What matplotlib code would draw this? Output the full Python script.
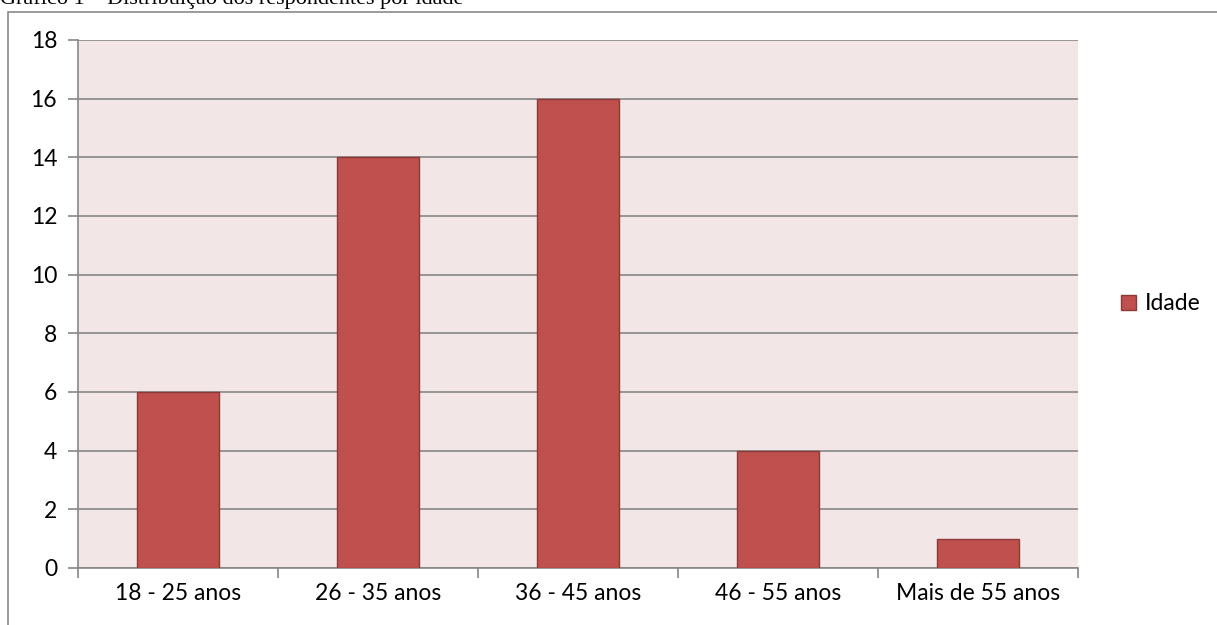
import matplotlib.pyplot as plt
import numpy as np
from matplotlib.patches import Rectangle

categories = ["18 - 25 anos", "26 - 35 anos", "36 - 45 anos", "46 - 55 anos", "Mais de 55 anos"]
values = [6, 14, 16, 4, 1]
yticks = [0, 2, 4, 6, 8, 10, 12, 14, 16, 18]
series_name = "Idade"
title = "Gráfico 1 – Distribuição dos respondentes por idade"

plt.rcParams['font.family'] = ['Lato', 'DejaVu Sans']

fig = plt.figure(figsize=(12.17, 6.25), dpi=100)
ax = fig.add_axes([78 / 1217, 57 / 625, 1000 / 1217, 528 / 625])

# chart frame
fig.patches.append(Rectangle((8 / 1217, -0.05), 1.1, (613 / 625) + 0.05, transform=fig.transFigure,
                             fill=False, edgecolor="#8a8a8a", linewidth=1.2, zorder=0))
fig.text(0.0, 1 - 4 / 625, title, family="Liberation Serif", fontsize=16, va="baseline", ha="left")

x = np.arange(len(categories))
ax.set_facecolor("#F2E7E6")
ax.bar(x, values, width=0.41, color="#C0504D", edgecolor="#8C3A38", linewidth=1, label=series_name, zorder=3)

ax.set_xlim(-0.5, len(categories) - 0.5)
ax.set_ylim(0, 18)
ax.set_yticks(yticks)
ax.set_yticklabels([str(v) for v in yticks], fontsize=16.5)
ax.yaxis.grid(True, color="#868686", linewidth=1.2, zorder=1)
ax.set_axisbelow(True)

ax.set_xticks(x)
ax.set_xticklabels(categories, fontsize=16.5)
ax.set_xticks(np.arange(-0.5, len(categories)), minor=True)
ax.tick_params(axis="x", which="major", length=0, pad=11)
ax.tick_params(axis="x", which="minor", length=7, color="#868686", width=1.2)
ax.tick_params(axis="y", length=7, color="#868686", width=1.2, pad=8)

for s in ["top", "right"]:
    ax.spines[s].set_visible(False)
for s in ["left", "bottom"]:
    ax.spines[s].set_color("#868686")
    ax.spines[s].set_linewidth(1.2)

ax.legend(loc="center left", bbox_to_anchor=(1.022, 0.5), frameon=False, fontsize=16.5,
          handlelength=0.65, handleheight=0.65, handletextpad=0.4)

plt.savefig("out.png", dpi=100)
